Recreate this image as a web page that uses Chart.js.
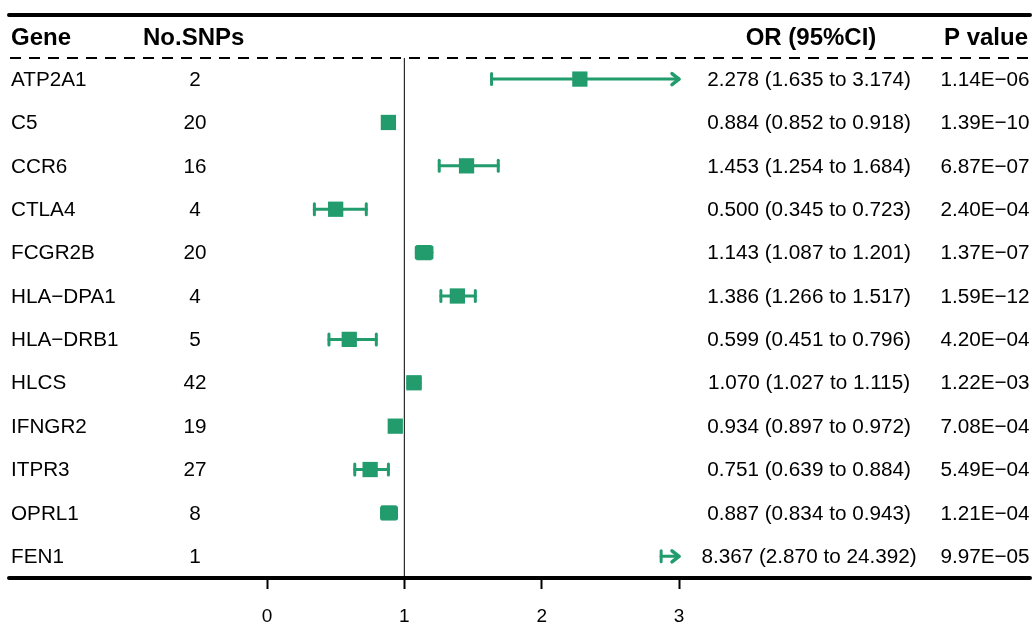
<!DOCTYPE html>
<html>
<head>
<meta charset="utf-8">
<script src="https://cdn.jsdelivr.net/npm/chart.js@4/dist/chart.umd.min.js"></script>
<style>
  html, body { margin: 0; padding: 0; background: #fff; }
  #wrap { width: 1035px; height: 624px; }
</style>
</head>
<body>
<div id="wrap"><canvas id="myChart" width="1035" height="624"></canvas></div>
<script>
// data
const genes = ['ATP2A1', 'C5', 'CCR6', 'CTLA4', 'FCGR2B', 'HLA\u2212DPA1', 'HLA\u2212DRB1', 'HLCS', 'IFNGR2', 'ITPR3', 'OPRL1', 'FEN1'];
const nsnps = [2, 20, 16, 4, 20, 4, 5, 42, 19, 27, 8, 1];
const orVals = [2.278, 0.884, 1.453, 0.500, 1.143, 1.386, 0.599, 1.070, 0.934, 0.751, 0.887, 8.367];
const ciLow = [1.635, 0.852, 1.254, 0.345, 1.087, 1.266, 0.451, 1.027, 0.897, 0.639, 0.834, 2.870];
const ciHigh = [3.174, 0.918, 1.684, 0.723, 1.201, 1.517, 0.796, 1.115, 0.972, 0.884, 0.943, 24.392];
const pvals = [1.14e-6, 1.39e-10, 6.87e-7, 2.40e-4, 1.37e-7, 1.59e-12, 4.20e-4, 1.22e-3, 7.08e-4, 5.49e-4, 1.21e-4, 9.97e-5];
const xTicks = [0, 1, 2, 3];

const green = '#229c6d';

function fmtP(p) {
  let e = Math.floor(Math.log10(p));
  let m = p / Math.pow(10, e);
  if (m >= 9.995) { m = m / 10; e += 1; }
  const sign = e < 0 ? '\u2212' : '+';
  return m.toFixed(2) + 'E' + sign + String(Math.abs(e)).padStart(2, '0');
}

// error bars under the boxes
const ciPlugin = {
  id: 'ciBars',
  beforeDatasetsDraw(chart) {
    const c = chart.ctx, xs = chart.scales.x, ys = chart.scales.y, a = chart.chartArea;
    c.save();
    // reference line at OR = 1
    c.strokeStyle = '#000';
    c.lineWidth = 1;
    c.beginPath();
    c.moveTo(xs.getPixelForValue(1), 58);
    c.lineTo(xs.getPixelForValue(1), a.bottom);
    c.stroke();

    c.strokeStyle = green;
    c.lineWidth = 3;
    c.lineCap = 'round';
    c.lineJoin = 'round';
    for (let i = 0; i < genes.length; i++) {
      const y = ys.getPixelForValue(i);
      const x0 = xs.getPixelForValue(Math.max(ciLow[i], xs.min));
      const x1 = xs.getPixelForValue(Math.min(ciHigh[i], xs.max));
      c.beginPath();
      c.moveTo(x0, y);
      c.lineTo(x1, y);
      c.stroke();
      if (ciLow[i] >= xs.min) {
        c.beginPath();
        c.moveTo(x0, y - 5.5);
        c.lineTo(x0, y + 5.5);
        c.stroke();
      }
      c.beginPath();
      if (ciHigh[i] > xs.max) {
        c.lineWidth = 3.5;
        c.moveTo(x1 - 7, y - 5.5);
        c.lineTo(x1, y);
        c.lineTo(x1 - 7, y + 5.5);
      } else {
        c.moveTo(x1, y - 5.5);
        c.lineTo(x1, y + 5.5);
      }
      c.stroke();
      c.lineWidth = 3;
    }
    c.restore();
  },
  afterDraw(chart) {
    const c = chart.ctx, ys = chart.scales.y;
    c.save();
    c.strokeStyle = '#000';
    c.lineCap = 'round';
    // top and bottom rules
    c.lineWidth = 4;
    c.beginPath();
    c.moveTo(9, 15); c.lineTo(1030, 15);
    c.moveTo(9, 578); c.lineTo(1030, 578);
    c.stroke();
    // dashed rule under the header
    c.lineCap = 'butt';
    c.lineWidth = 2;
    c.setLineDash([11, 8]);
    c.beginPath();
    c.moveTo(10, 58); c.lineTo(1030, 58);
    c.stroke();
    c.setLineDash([]);

    c.fillStyle = '#000';
    c.textBaseline = 'middle';
    const hy = 38;
    c.font = 'bold 24px "Liberation Sans", Arial, sans-serif';
    c.textAlign = 'left';
    c.fillText('Gene', 11, hy);
    c.fillText('No.SNPs', 143, hy);
    c.textAlign = 'center';
    c.fillText('OR (95%CI)', 811, hy);
    c.fillText('P value', 986, hy);

    c.font = '20.7px "Liberation Sans", Arial, sans-serif';
    for (let i = 0; i < genes.length; i++) {
      const y = ys.getPixelForValue(i) + 1;
      c.textAlign = 'left';
      c.fillText(genes[i], 11, y);
      c.textAlign = 'center';
      c.fillText(String(nsnps[i]), 195, y);
      c.fillText(orVals[i].toFixed(3) + ' (' + ciLow[i].toFixed(3) + ' to ' + ciHigh[i].toFixed(3) + ')', 809, y);
      c.fillText(fmtP(pvals[i]), 985, y);
    }
    c.restore();
  }
};

const ctx = document.getElementById('myChart').getContext('2d');
const chart = new Chart(ctx, {
  type: 'scatter',
  data: {
    datasets: [{
      data: orVals.map((v, i) => ({ x: v, y: i })),
      backgroundColor: green,
      borderColor: green,
      borderWidth: 0,
      pointStyle: 'rect',
      pointRadius: 10.8
    }]
  },
  options: {
    responsive: false,
    animation: false,
    events: [],
    layout: { padding: { left: 267, right: 356, top: 14, bottom: 0 } },
    plugins: { legend: { display: false }, tooltip: { enabled: false } },
    scales: {
      x: {
        type: 'linear',
        min: 0,
        max: 3,
        afterBuildTicks: s => { s.ticks = xTicks.map(v => ({ value: v })); },
        afterFit: s => { s.height = 46; },
        border: { display: false },
        grid: { drawOnChartArea: false, drawTicks: true, tickLength: 11, tickWidth: 2, tickColor: '#000' },
        ticks: { color: '#000', padding: 16, font: { size: 19, family: '"Liberation Sans", Arial, sans-serif' } }
      },
      y: {
        type: 'linear',
        min: -1.5,
        max: 11.5,
        reverse: true,
        display: false
      }
    }
  },
  plugins: [ciPlugin]
});
</script>
</body>
</html>
